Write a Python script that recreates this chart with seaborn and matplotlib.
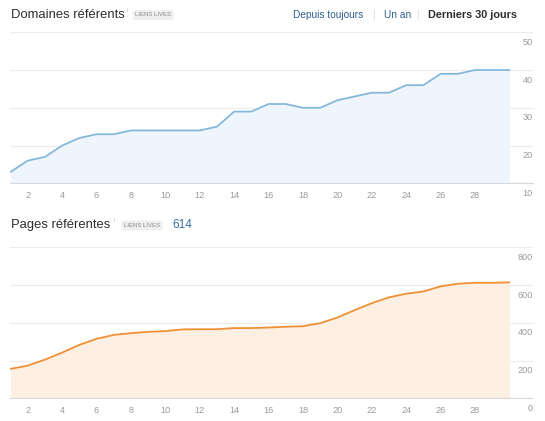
import numpy as np
import pandas as pd
import matplotlib
matplotlib.use("Agg")
import matplotlib.pyplot as plt
import seaborn as sns

# ---- data ----
days = list(range(1, 31))
domaines = [13, 16, 17, 20, 22, 23, 23, 24, 24, 24, 24, 24, 25, 29, 29,
            31, 31, 30, 30, 32, 33, 34, 34, 36, 36, 39, 39, 40, 40, 40]
pages = [156, 173, 205, 242, 283, 315, 336, 345, 352, 356, 365, 366, 366, 372, 372,
         375, 379, 382, 398, 428, 467, 504, 535, 554, 566, 593, 607, 612, 612, 614]
x_ticks = list(range(2, 29, 2))
dom_yticks = [10, 20, 30, 40, 50]
pages_yticks = [0, 200, 400, 600, 800]

sns.set_style("white")
plt.rcParams["font.family"] = ["Liberation Sans", "DejaVu Sans"]

W, H = 545, 421
fig = plt.figure(figsize=(W / 100, H / 100), dpi=100)
fig.patch.set_facecolor("white")


def px(x, y):
    return x / W, 1 - y / H


def make_axes(top_px, bottom_px):
    l = 10 / W
    w = 523 / W
    b = 1 - bottom_px / H
    h = (bottom_px - top_px) / H
    return fig.add_axes([l, b, w, h])


def style_axes(ax, vals, yticks, line_color, fill_color):
    df = pd.DataFrame({"day": days, "val": vals})
    ax.fill_between(df["day"], df["val"], yticks[0], color=fill_color, lw=0, zorder=1)
    sns.lineplot(data=df, x="day", y="val", ax=ax, color=line_color, lw=1.3, zorder=3)
    ax.set_xlim(0.97, 31.37)
    ax.set_ylim(yticks[0], yticks[-1])
    ax.set_xlabel("")
    ax.set_ylabel("")
    for s in ["top", "left", "right"]:
        ax.spines[s].set_visible(False)
    ax.spines["bottom"].set_color("#d9d9d9")
    ax.spines["bottom"].set_linewidth(0.8)
    ax.set_yticks(yticks)
    ax.set_yticklabels([])
    ax.tick_params(axis="y", length=0)
    ax.yaxis.grid(True, color="#ececec", lw=0.8)
    ax.set_axisbelow(True)
    ax.set_xticks(x_ticks)
    ax.set_xticks([1, 30], minor=True)
    ax.set_xticklabels([str(t) for t in x_ticks])
    ax.tick_params(axis="x", which="both", direction="in", length=2, width=0.7,
                   color="#cfcfcf", labelsize=6.6, labelcolor="#9a9a9a", pad=5.5)
    tr = matplotlib.transforms.blended_transform_factory(ax.transAxes, ax.transData)
    off = matplotlib.transforms.ScaledTranslation(0, -10 / 100, fig.dpi_scale_trans)
    for t in yticks:
        ax.text(1.0, t, str(t), transform=tr + off, ha="right", va="center",
                fontsize=6.6, color="#9a9a9a")


ax1 = make_axes(32.3, 183.3)
style_axes(ax1, domaines, dom_yticks, "#86b8dc", "#eef5fc")

ax2 = make_axes(247.3, 398.3)
style_axes(ax2, pages, pages_yticks, "#ef9035", "#fdefe2")

# ---- header texts ----
title_col = "#2e2e2e"
link_col = "#2f5f91"


def badge(x, y):
    fig.text(*px(x, y), "LIENS LIVES", fontsize=4.3, color="#8a8a8a", va="center",
             ha="left", bbox=dict(boxstyle="round,pad=0.4", fc="#efefef", ec="none"))


fig.text(*px(11, 14.5), "Domaines référents", fontsize=9.4, color=title_col, va="center")
fig.text(*px(127, 10), "i", fontsize=3.5, color="#aaaaaa", va="center")
badge(135, 15)

fig.text(*px(293, 14.5), "Depuis toujours", fontsize=7.3, color=link_col, va="center")
fig.text(*px(372, 14.5), "|", fontsize=7.3, color="#dddddd", va="center")
fig.text(*px(384, 14.5), "Un an", fontsize=7.3, color=link_col, va="center")
fig.text(*px(416, 14.5), "|", fontsize=7.3, color="#dddddd", va="center")
fig.text(*px(428, 14.5), "Derniers 30 jours", fontsize=7.8, color=title_col,
         va="center", fontweight="bold")

fig.text(*px(11, 225), "Pages référentes", fontsize=9.4, color=title_col, va="center")
fig.text(*px(114, 221), "i", fontsize=3.5, color="#aaaaaa", va="center")
badge(124, 225.5)
fig.text(*px(172, 224.5), "614", fontsize=8.6, color="#3a6ea5", va="center")

fig.savefig("out.png", dpi=100, facecolor="white")
